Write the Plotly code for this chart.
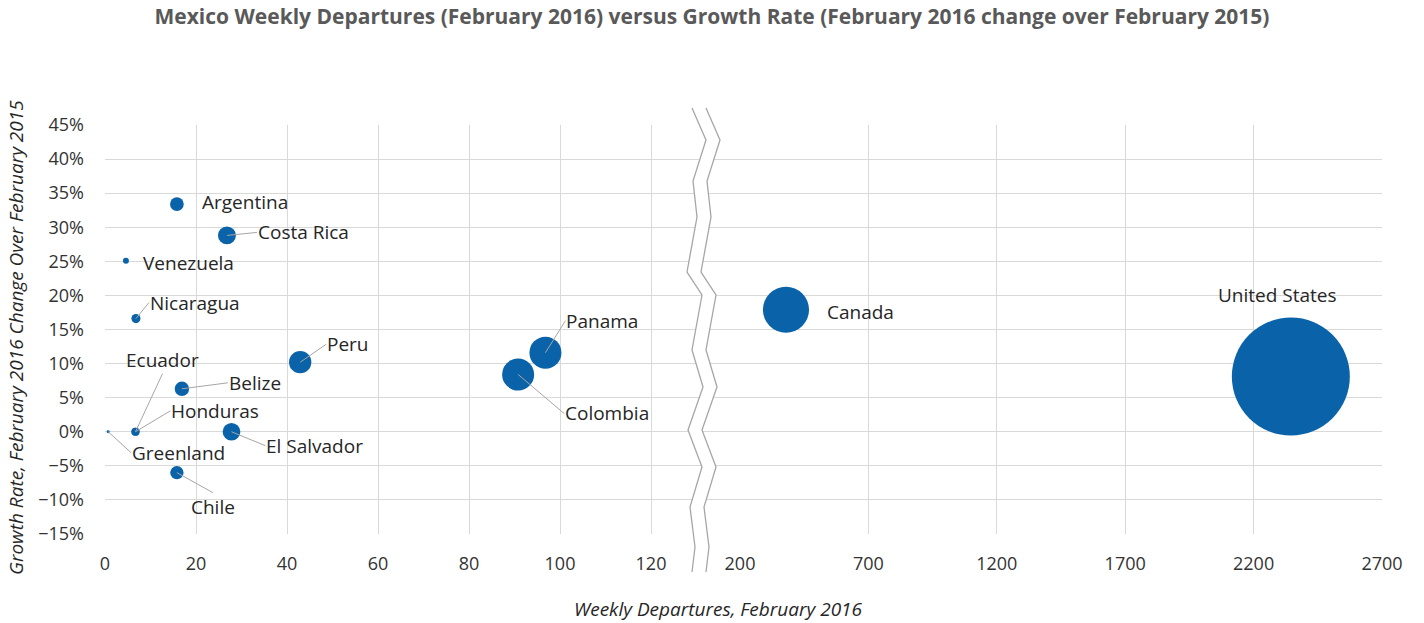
import plotly.graph_objects as go

# ---------------- data ----------------
countries_small = ["Argentina", "Costa Rica", "Venezuela", "Nicaragua", "Peru", "Ecuador",
                   "Belize", "Honduras", "El Salvador", "Greenland", "Chile", "Panama", "Colombia"]
departures_small = [15.8, 26.8, 4.6, 6.8, 42.9, 6.7, 16.9, 6.7, 27.8, 0.7, 15.8, 96.8, 90.8]
growth_small = [0.334, 0.288, 0.251, 0.166, 0.102, 0.0, 0.063, 0.0, 0.0, 0.0, -0.060, 0.116, 0.084]
bubble_small = [32, 54, 6, 14, 84, 11, 35, 11, 53, 1.5, 30, 173, 173]

countries_large = ["Canada", "United States"]
departures_large = [379, 2345]
growth_large = [0.179, 0.081]
bubble_large = [360, 2350]

y_ticks = [-0.15, -0.10, -0.05, 0, 0.05, 0.10, 0.15, 0.20, 0.25, 0.30, 0.35, 0.40, 0.45]
x_ticks_small = [0, 20, 40, 60, 80, 100, 120]
x_ticks_large = [200, 700, 1200, 1700, 2200, 2700]

# ---------------- styling ----------------
BLUE = "#0a63a9"
GRID = "#d9d9d9"
TXT = "#333333"
FONT = "Open Sans"
L, R, T, B = 105, 42, 125, 89
W, H = 1424, 623
PW, PH = W - L - R, H - T - B
split_px = 740
split = (split_px - L) / PW
max_bubble = max(bubble_small + bubble_large)
sizeref = 2.0 * max_bubble / 118 ** 2

fig = go.Figure()
fig.add_trace(go.Scatter(
    x=departures_small, y=growth_small, mode="markers", xaxis="x", yaxis="y",
    marker=dict(size=bubble_small, sizemode="area", sizeref=sizeref, color=BLUE,
                line=dict(width=0), opacity=1),
    text=countries_small, hoverinfo="text", showlegend=False))
fig.add_trace(go.Scatter(
    x=departures_large, y=growth_large, mode="markers", xaxis="x2", yaxis="y",
    marker=dict(size=bubble_large, sizemode="area", sizeref=sizeref, color=BLUE,
                line=dict(width=0), opacity=1),
    text=countries_large, hoverinfo="text", showlegend=False))

# label placement: (dx, dy) px offsets of label anchor from point, anchor, leader line
label_pos = {
    "Argentina": (23, -2, "left", "middle", False),
    "Venezuela": (15, 2, "left", "middle", False),
    "Costa Rica": (30, -3, "left", "middle", True),
    "Nicaragua": (13, -16, "left", "middle", True),
    "Peru": (26, -18, "left", "middle", True),
    "Ecuador": (27, -58, "center", "bottom", True),
    "Belize": (46, -6, "left", "middle", True),
    "Honduras": (35, -21, "left", "middle", True),
    "El Salvador": (34, 14, "left", "middle", True),
    "Greenland": (23, 21, "left", "middle", True),
    "Chile": (36, 20, "center", "top", True),
    "Panama": (20, -32, "left", "middle", True),
    "Colombia": (46, 39, "left", "middle", True),
    "Canada": (39, 2, "left", "middle", False),
    "United States": (-13, -82, "center", "middle", False),
}

annotations = []
for names, xs, ys, xref in [(countries_small, departures_small, growth_small, "x"),
                            (countries_large, departures_large, growth_large, "x2")]:
    for n, xv, yv in zip(names, xs, ys):
        dx, dy, xa, ya, leader = label_pos[n]
        a = dict(x=xv, y=yv, xref=xref, yref="y", text=n,
                 font=dict(family=FONT, size=19, color="#262626"),
                 xanchor=xa, yanchor=ya)
        if leader:
            a.update(showarrow=True, ax=dx, ay=dy, arrowhead=0, arrowwidth=1,
                     arrowcolor="#a6a6a6", standoff=0, borderpad=0)
        else:
            a.update(showarrow=False, xshift=dx, yshift=-dy)
        annotations.append(a)

annotations.append(dict(
    text="<i>Growth Rate, February 2016 Change Over February 2015</i>",
    xref="paper", yref="paper", x=(16 - L) / PW, y=(H - B - 338) / PH,
    textangle=-90, showarrow=False, xanchor="center", yanchor="middle",
    font=dict(family=FONT, size=19, color="#262626")))
annotations.append(dict(
    text="<i>Weekly Departures, February 2016</i>",
    xref="paper", yref="paper", x=(718 - L) / PW, y=(H - B - 609) / PH,
    showarrow=False, xanchor="center", yanchor="middle",
    font=dict(family=FONT, size=19, color="#262626")))

# axis break zigzag (decoration, pixel geometry)
zz_y = [108, 140, 181, 217, 272, 295, 350, 387, 430, 467, 507, 547, 572]
zz_x = [692, 706, 693, 697, 687, 702, 692, 703, 688, 702, 690, 695, 692]
gap = 14


def px2paper(px, py):
    return (px - L) / PW, (H - B - py) / PH


def path(points):
    return "M " + " L ".join(f"{a:.5f},{b:.5f}" for a, b in points)


left_pts = [px2paper(x, y) for x, y in zip(zz_x, zz_y)]
right_pts = [px2paper(x + gap, y) for x, y in zip(zz_x, zz_y)]
shapes = [
    dict(type="path", xref="paper", yref="paper", layer="above",
         path=path(left_pts + right_pts[::-1]) + " Z",
         fillcolor="white", line=dict(width=0)),
    dict(type="path", xref="paper", yref="paper", layer="above",
         path=path(left_pts), line=dict(color="#a6a6a6", width=1.3)),
    dict(type="path", xref="paper", yref="paper", layer="above",
         path=path(right_pts), line=dict(color="#a6a6a6", width=1.3)),
]

tickfont = dict(family=FONT, size=18, color=TXT)
fig.update_layout(
    width=W, height=H,
    margin=dict(l=L, r=R, t=T, b=B),
    paper_bgcolor="white", plot_bgcolor="white",
    title=dict(text="<b>Mexico Weekly Departures (February 2016) versus Growth Rate (February 2016 change over February 2015)</b>",
               x=0.5, xref="container", xanchor="center", y=1 - 17 / H, yref="container",
               yanchor="middle", font=dict(family=FONT, size=21, color="#595959")),
    xaxis=dict(domain=[0, split], range=[0, (split_px - L) / 4.55], tickvals=x_ticks_small,
               showgrid=True, gridcolor=GRID, gridwidth=1, zeroline=False,
               tickfont=tickfont, ticklabelstandoff=17, anchor="y"),
    xaxis2=dict(domain=[split, 1], range=[200, 2700], tickvals=x_ticks_large,
                showgrid=True, gridcolor=GRID, gridwidth=1, zeroline=False,
                tickfont=tickfont, ticklabelstandoff=17, anchor="y"),
    yaxis=dict(range=[-0.15, 0.45], tickvals=y_ticks, tickformat=".0%",
               showgrid=True, gridcolor=GRID, gridwidth=1, zeroline=False,
               tickfont=tickfont, ticklabelstandoff=20, anchor="x"),
    annotations=annotations,
    shapes=shapes,
)

fig.write_html("out.html")
